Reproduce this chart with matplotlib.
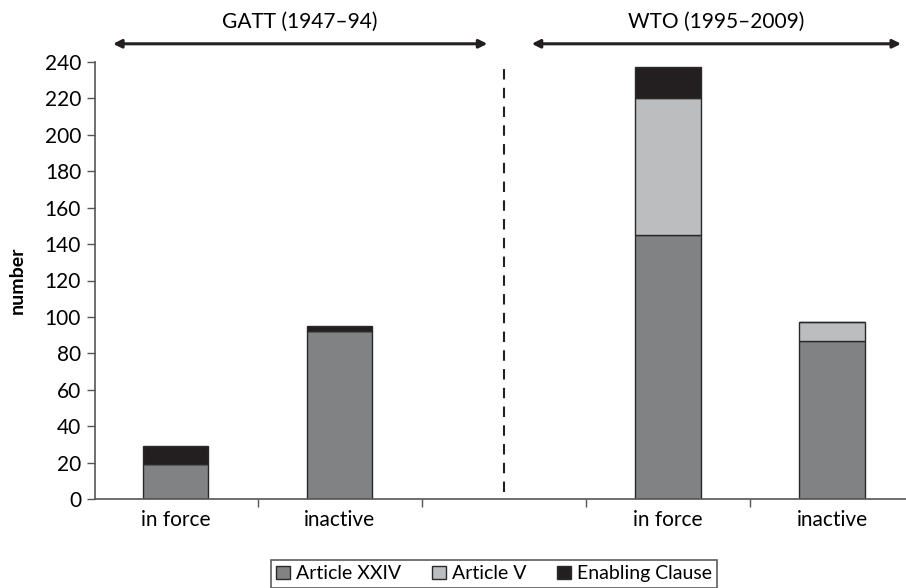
import matplotlib

matplotlib.use("Agg")
import matplotlib.pyplot as plt  # noqa: E402
from matplotlib.patches import Patch  # noqa: E402
import numpy as np  # noqa: E402

plt.rcParams["font.family"] = ["Lato", "DejaVu Sans"]

# data (blank slot in the middle separates GATT and WTO)
categories = ["in force", "inactive", "", "in force", "inactive"]
article_xxiv = [19, 92, 0, 145, 87]
article_v = [0, 0, 0, 75, 10]
enabling = [10, 3, 0, 17, 0]
series_names = ["Article XXIV", "Article V", "Enabling Clause"]
eras = ["GATT (1947\u201394)", "WTO (1995\u20132009)"]

colors = ["#818284", "#bcbdbf", "#231f20"]
edge = "#2a2a2a"


def main():
    fig = plt.figure(figsize=(9.06, 5.88), dpi=100)
    ax = fig.add_axes([95 / 906, 89 / 588, 1 - 95 / 906, 437 / 588])

    x = np.arange(len(categories))
    mask = np.array([c != "" for c in categories])
    bottom = np.zeros(len(categories))
    for vals, col in zip([article_xxiv, article_v, enabling], colors):
        vals = np.array(vals, dtype=float)
        ax.bar(x[mask], vals[mask], 0.4, bottom=bottom[mask], color=col,
               edgecolor=edge, linewidth=1.0)
        bottom += vals

    ax.set_xlim(-0.49, 4.45)
    ax.set_ylim(0, 240)
    ax.set_yticks(np.arange(0, 241, 20))
    ax.set_xticks(x[mask])
    ax.set_xticklabels([c for c in categories if c])
    ax.set_xticks(np.arange(0.5, 4, 1), minor=True)
    ax.tick_params(axis="x", which="major", length=0, pad=8, labelsize=15)
    ax.tick_params(axis="x", which="minor", length=6, width=1, color="#555")
    ax.tick_params(axis="y", length=6, width=1, color="#555", labelsize=15, pad=4)
    for s in ("top", "right"):
        ax.spines[s].set_visible(False)
    for s in ("left", "bottom"):
        ax.spines[s].set_color("#555")
        ax.spines[s].set_linewidth(1.2)
    ax.set_ylabel("number", fontsize=14, fontweight="bold", labelpad=14)

    # divider between the two periods
    ax.plot([2, 2], [4, 239], ls=(0, (5, 4)), color="#231f20", lw=1.5,
            clip_on=False)

    # era arrows and titles
    for (x0, x1), name in zip([(-0.38, 1.9), (2.17, 4.42)], eras):
        ax.annotate("", xy=(x1, 250), xytext=(x0, 250), xycoords="data",
                    annotation_clip=False,
                    arrowprops=dict(arrowstyle="<|-|>", lw=2.2, color="#231f20",
                                    mutation_scale=12, shrinkA=0, shrinkB=0))
        ax.text((x0 + x1) / 2, 262, name, ha="center", va="center",
                fontsize=15, clip_on=False)

    handles = [Patch(facecolor=c, edgecolor=edge, lw=1) for c in colors]
    leg = fig.legend(handles, series_names, loc="lower center",
                     bbox_to_anchor=(494 / 906, -0.017), ncol=3, fontsize=14,
                     frameon=True, fancybox=False, handlelength=0.7,
                     handleheight=0.7, handletextpad=0.3, columnspacing=1.6,
                     borderpad=0.3)
    leg.get_frame().set_edgecolor("#333")
    leg.get_frame().set_linewidth(1.2)

    fig.savefig("out.png", dpi=100)


if __name__ == "__main__":
    main()
